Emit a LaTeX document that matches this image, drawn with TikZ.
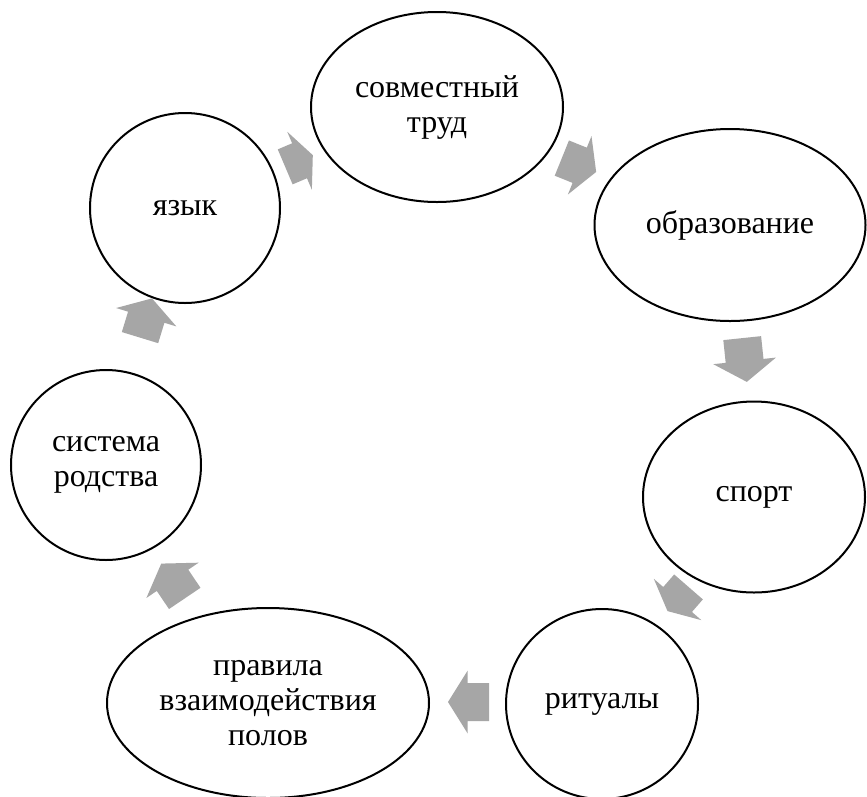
\documentclass[tikz,border=0pt]{standalone}
\usepackage{fontspec}
\setmainfont{Liberation Serif}
\usetikzlibrary{shapes.geometric}
\definecolor{arrowgray}{RGB}{166,166,166}
\tikzset{
  x=1pt,y=-1pt,
  cyc/.style={ellipse,draw=black,line width=2pt,inner sep=0pt,align=center,
    font=\fontsize{32}{35}\selectfont},
}
% #1 name, #2 centre, #3 angle, #4 length
\newcommand\cycarrow[4]{%
  \coordinate (#1) at #2;
  \pgfmathsetmacro\halfL{#4/2}
  \pgfmathsetmacro\headL{#4*0.48}
  \fill[arrowgray,shift={(#1)},rotate=#3]
    (-\halfL,-19) -- (\halfL-\headL,-19) -- (\halfL-\headL,-31.5) -- (\halfL,0)
    -- (\halfL-\headL,31.5) -- (\halfL-\headL,19) -- (-\halfL,19) -- cycle;
}
\begin{document}
\begin{tikzpicture}
\useasboundingbox (0,0) rectangle (867,796);
\fill[white] (0,0) rectangle (867,796);

\node[cyc,minimum width=252pt,minimum height=190pt] (trud) at (437,107) {совместный\\труд};
\node[cyc,minimum width=271pt,minimum height=192pt] (obr) at (730,225) {образование};
\node[cyc,minimum width=222pt,minimum height=191pt] (sport) at (754,497) {спорт};
\node[cyc,minimum width=192pt,minimum height=190pt] (rit) at (602,704) {ритуалы};
\node[cyc,minimum width=322pt,minimum height=190pt] (prav) at (268,703) {правила\\взаимодействия\\полов};
\node[cyc,minimum width=190pt,minimum height=190pt] (sist) at (106,465) {система\\родства};
\node[cyc,minimum width=190pt,minimum height=190pt] (yaz) at (185,208) {язык};

\cycarrow{a1}{(299,161)}{23}{30}
\cycarrow{a2}{(579,165)}{-22}{37}
\cycarrow{a3}{(744.5,360)}{-84}{44}
\cycarrow{a4}{(678,599)}{-131}{32}
\cycarrow{a5}{(468.5,702)}{180}{41}
\cycarrow{a6}{(173,581)}{124}{42}
\cycarrow{a7}{(146,318)}{73}{41}
\end{tikzpicture}
\end{document}
